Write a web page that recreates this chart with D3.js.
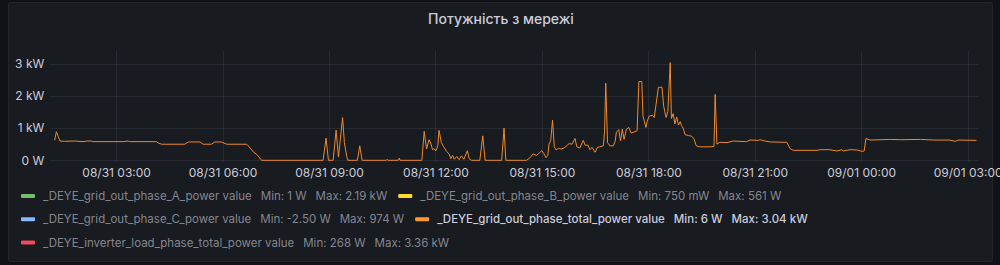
<!DOCTYPE html>
<html>
<head>
<meta charset="utf-8">
<script src="https://cdn.jsdelivr.net/npm/d3@7"></script>
<style>
  html, body { margin: 0; padding: 0; background: #111217; }
  svg { display: block; font-family: Inter, Roboto, "Noto Sans", sans-serif; }
</style>
</head>
<body>
<svg id="chart" width="1000" height="265"></svg>
<script>
// panel title
var title = "Потужність з мережі";

// x domain and tick marks
var timeStart = "08/31 01:07",
    timeEnd = "09/01 03:18";
var xTicks = ["08/31 03:00", "08/31 06:00", "08/31 09:00", "08/31 12:00", "08/31 15:00",
              "08/31 18:00", "08/31 21:00", "09/01 00:00", "09/01 03:00"];
var yTicks = [0, 1000, 2000, 3000];
var yMax = 3400;

// _DEYE_grid_out_phase_total_power value (W)
var times = [
  "08/31 01:16", "08/31 01:19", "08/31 01:22", "08/31 01:25", "08/31 01:33", "08/31 01:50",
  "08/31 02:04", "08/31 02:10", "08/31 02:18", "08/31 02:21", "08/31 03:12", "08/31 03:20",
  "08/31 03:23", "08/31 04:08", "08/31 04:11", "08/31 04:17", "08/31 04:56", "08/31 05:02",
  "08/31 05:22", "08/31 05:27", "08/31 05:41", "08/31 05:47", "08/31 05:58", "08/31 06:07",
  "08/31 06:41", "08/31 06:43", "08/31 06:52", "08/31 06:58", "08/31 07:06",
  "08/31 08:50", "08/31 08:55", "08/31 08:59", "08/31 09:07", "08/31 09:12", "08/31 09:16",
  "08/31 09:18", "08/31 09:23", "08/31 09:26", "08/31 09:30", "08/31 09:32", "08/31 09:48",
  "08/31 09:52", "08/31 09:56", "08/31 10:37", "08/31 10:38", "08/31 10:40", "08/31 10:57",
  "08/31 10:59", "08/31 11:00", "08/31 11:37", "08/31 11:41", "08/31 11:45", "08/31 11:49",
  "08/31 11:52", "08/31 11:55", "08/31 11:57", "08/31 12:01", "08/31 12:04", "08/31 12:06",
  "08/31 12:10", "08/31 12:14", "08/31 12:19", "08/31 12:23", "08/31 12:26", "08/31 12:29",
  "08/31 12:32", "08/31 12:36", "08/31 12:40", "08/31 12:44", "08/31 12:48", "08/31 12:54",
  "08/31 12:57", "08/31 13:01", "08/31 13:15", "08/31 13:20", "08/31 13:24", "08/31 13:52",
  "08/31 13:56", "08/31 13:59", "08/31 14:34", "08/31 14:40", "08/31 14:45", "08/31 14:51",
  "08/31 14:57", "08/31 15:00", "08/31 15:03", "08/31 15:07", "08/31 15:10", "08/31 15:12",
  "08/31 15:15", "08/31 15:18", "08/31 15:21", "08/31 15:24", "08/31 15:28", "08/31 15:33",
  "08/31 15:39", "08/31 15:46", "08/31 15:51", "08/31 15:56", "08/31 15:59", "08/31 16:04",
  "08/31 16:10", "08/31 16:13", "08/31 16:18", "08/31 16:21", "08/31 16:25", "08/31 16:30",
  "08/31 16:34", "08/31 16:38", "08/31 16:44", "08/31 16:46", "08/31 16:48", "08/31 16:51",
  "08/31 16:55", "08/31 17:01", "08/31 17:04", "08/31 17:06", "08/31 17:10", "08/31 17:13",
  "08/31 17:16", "08/31 17:19", "08/31 17:23", "08/31 17:27", "08/31 17:31", "08/31 17:36",
  "08/31 17:41", "08/31 17:44", "08/31 17:49", "08/31 17:51", "08/31 17:56", "08/31 17:58",
  "08/31 18:01", "08/31 18:07", "08/31 18:10", "08/31 18:13", "08/31 18:17", "08/31 18:23",
  "08/31 18:26", "08/31 18:30", "08/31 18:33", "08/31 18:37", "08/31 18:39", "08/31 18:42",
  "08/31 18:45", "08/31 18:48", "08/31 18:51", "08/31 18:54", "08/31 18:56", "08/31 18:59",
  "08/31 19:02", "08/31 19:08", "08/31 19:13", "08/31 19:17", "08/31 19:21", "08/31 19:27",
  "08/31 19:44", "08/31 19:51", "08/31 19:53", "08/31 19:56", "08/31 20:01", "08/31 20:13",
  "08/31 20:24", "08/31 20:46", "08/31 20:52", "08/31 21:06", "08/31 21:09", "08/31 21:17",
  "08/31 21:26", "08/31 21:54", "08/31 22:00", "08/31 22:05", "08/31 22:45", "08/31 22:50",
  "08/31 23:07", "08/31 23:19", "08/31 23:27", "08/31 23:30", "08/31 23:41", "08/31 23:53",
  "09/01 00:01", "09/01 00:05", "09/01 00:08", "09/01 00:15", "09/01 00:49", "09/01 01:06",
  "09/01 01:40", "09/01 02:02", "09/01 02:30", "09/01 02:39", "09/01 02:44", "09/01 03:15"
];
var gridTotal = [
  620, 890, 750, 600, 590, 600,
  580, 600, 600, 580, 580, 600,
  580, 580, 540, 500, 500, 570,
  570, 500, 500, 570, 570, 500,
  500, 460, 260, 180, 0,
  0, 690, 0, 0, 940, 100,
  450, 1330, 550, 120, 0, 0,
  450, 0, 0, 30, 0, 0,
  70, 0, 0, 900, 350, 640,
  540, 330, 360, 300, 450, 930,
  550, 420, 270, 200, 50, 150,
  30, 120, 20, 140, 30, 300,
  50, 0, 0, 760, 0, 0,
  1000, 0, 0, 80, 200, 150,
  250, 300, 220, 80, 150, 500,
  620, 1250, 420, 320, 370, 350,
  400, 520, 500, 680, 420, 380,
  620, 470, 470, 330, 400, 250,
  400, 420, 450, 900, 2400, 550,
  450, 450, 600, 880, 950, 600,
  970, 650, 970, 1020, 850, 880,
  920, 2450, 2450, 1370, 1020, 1200,
  1370, 1400, 1330, 1730, 2270, 2270,
  1680, 1330, 1520, 3040, 1300, 1450,
  1130, 1350, 1100, 1200, 1080, 1000,
  800, 770, 750, 680, 450, 420,
  420, 430, 2050, 500, 560, 550,
  600, 580, 630, 620, 640, 600,
  570, 560, 360, 310, 310, 330,
  330, 290, 330, 290, 330, 320,
  280, 290, 680, 630, 650, 640,
  650, 630, 630, 590, 630, 620
];

// legend entries
var seriesNames = [
  "_DEYE_grid_out_phase_A_power value",
  "_DEYE_grid_out_phase_B_power value",
  "_DEYE_grid_out_phase_C_power value",
  "_DEYE_grid_out_phase_total_power value",
  "_DEYE_inverter_load_phase_total_power value"
];
var seriesMin = ["1 W", "750 mW", "-2.50 W", "6 W", "268 W"];
var seriesMax = ["2.19 kW", "561 W", "974 W", "3.04 kW", "3.36 kW"];
var seriesColors = ["#73BF69", "#FADE2A", "#8AB8FF", "#FF9830", "#F2495C"];
var seriesShown = [false, false, false, true, false];

var svg = d3.select("#chart");
var W = 1000, H = 265;
var plot = { left: 49.3, right: 978.3, top: 51, bottom: 160.3 };
var textColor = "#ccccdc",
    dimColor = "rgba(204,204,220,0.62)",
    gridColor = "rgba(204,204,220,0.09)";

var parse = d3.timeParse("%m/%d %H:%M");
var data = times.map(function(t, i) { return { t: parse(t), v: gridTotal[i] }; });

var x = d3.scaleTime()
    .domain([parse(timeStart), parse(timeEnd)])
    .range([plot.left, plot.right]);
var y = d3.scaleLinear()
    .domain([0, yMax])
    .range([plot.bottom, plot.top]);

// panel
svg.append("rect").attr("width", W).attr("height", H).attr("fill", "#111217");
svg.append("rect")
    .attr("x", 8.5).attr("y", 2.5).attr("width", 984).attr("height", 259)
    .attr("rx", 2).attr("ry", 2)
    .attr("fill", "#181b1f")
    .attr("stroke", "rgba(204,204,220,0.08)");

svg.append("text")
    .attr("x", 501).attr("y", 18)
    .attr("text-anchor", "middle").attr("dominant-baseline", "central")
    .attr("fill", textColor)
    .style("font-size", "14px").style("font-weight", 500)
    .text(title);

// grid
var tickDates = xTicks.map(parse);
svg.append("g").selectAll("line").data(tickDates).join("line")
    .attr("x1", function(d) { return Math.round(x(d)) + 0.5; })
    .attr("x2", function(d) { return Math.round(x(d)) + 0.5; })
    .attr("y1", plot.top).attr("y2", plot.bottom + 1)
    .attr("stroke", gridColor);
svg.append("g").selectAll("line").data(yTicks).join("line")
    .attr("x1", plot.left).attr("x2", plot.right)
    .attr("y1", function(d) { return Math.round(y(d)) + 0.5; })
    .attr("y2", function(d) { return Math.round(y(d)) + 0.5; })
    .attr("stroke", gridColor);

// axes (labels only, grafana style)
var fmtX = d3.timeFormat("%m/%d %H:%M");
var xAxis = svg.append("g")
    .attr("transform", "translate(0," + (plot.bottom + 4) + ")")
    .call(d3.axisBottom(x).tickValues(tickDates).tickFormat(fmtX).tickSize(0).tickPadding(4));
var yAxis = svg.append("g")
    .attr("transform", "translate(" + (plot.left - 5) + ",0)")
    .call(d3.axisLeft(y).tickValues(yTicks).tickSize(0).tickPadding(0)
      .tickFormat(function(d) { return d === 0 ? "0 W" : (d / 1000) + " kW"; }));
[xAxis, yAxis].forEach(function(a) {
  a.select(".domain").remove();
  a.selectAll("text")
      .attr("fill", textColor)
      .style("font-size", "12px")
      .style("font-family", "Inter, Roboto, sans-serif");
});

// series line
var line = d3.line()
    .x(function(d) { return x(d.t); })
    .y(function(d) { return y(d.v); });
svg.append("path")
    .datum(data)
    .attr("fill", "none")
    .attr("stroke", "#f0892c")
    .attr("stroke-width", 1)
    .attr("stroke-linejoin", "round")
    .attr("d", line);

// legend, flowing left to right and wrapping
var legend = svg.append("g").style("font-size", "11.5px");
var lx = 21, ly = 196, rowH = 23.3, maxX = 975;
seriesNames.forEach(function(name, i) {
  var g = legend.append("g");
  var col = seriesShown[i] ? textColor : dimColor;
  var weight = seriesShown[i] ? 500 : 400;
  g.append("rect")
      .attr("x", 0).attr("y", -2).attr("width", 14).attr("height", 4)
      .attr("rx", 1).attr("fill", seriesColors[i]);
  var label = g.append("text")
      .attr("x", 22).attr("dy", "0.35em")
      .attr("fill", col).style("font-weight", weight)
      .text(name);
  var cx = 22 + label.node().getComputedTextLength() + 9;
  var mn = g.append("text")
      .attr("x", cx).attr("dy", "0.35em")
      .attr("fill", col).style("font-weight", weight)
      .text("Min: " + seriesMin[i]);
  cx += mn.node().getComputedTextLength() + 9;
  var mx = g.append("text")
      .attr("x", cx).attr("dy", "0.35em")
      .attr("fill", col).style("font-weight", weight)
      .text("Max: " + seriesMax[i]);
  var w = cx + mx.node().getComputedTextLength();
  if (lx > 21 && lx + w > maxX) {
    lx = 21;
    ly += rowH;
  }
  g.attr("transform", "translate(" + lx + "," + ly + ")");
  lx += w + 11;
});
</script>
</body>
</html>
